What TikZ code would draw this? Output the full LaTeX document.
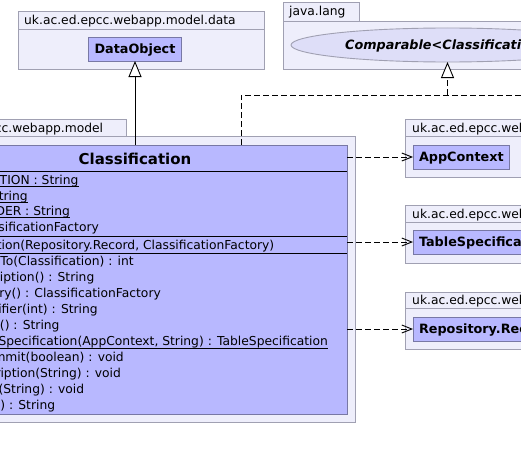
\documentclass[tikz,border=0pt]{standalone}
\usepackage{fontspec}
\setmainfont{DejaVu Sans}
\usetikzlibrary{arrows.meta,shapes.geometric}
\definecolor{pkgfill}{RGB}{238,238,251}
\definecolor{pkgline}{RGB}{160,160,178}
\definecolor{clsfill}{RGB}{184,184,255}
\definecolor{clsline}{RGB}{120,120,165}
\definecolor{ifill}{RGB}{222,222,248}
\begin{document}
\begin{tikzpicture}[x=1pt,y=-1pt,
  pkg/.style={draw=pkgline, fill=pkgfill, line width=0.9pt},
  clsshape/.style={draw=clsline, fill=clsfill, line width=0.9pt, outer sep=0pt},
  lbl/.style={anchor=base west, inner sep=0pt, font=\fontsize{12.3}{14}\selectfont},
  member/.style={anchor=base west, inner sep=0pt, font=\fontsize{12.3}{14}\selectfont},
  uline/.style={draw=black, line width=0.8pt},
  clsname/.style={clsshape, font=\fontsize{12.8}{15}\selectfont\bfseries, text height=9.4pt, text depth=0pt, minimum height=24pt, inner xsep=6pt, inner ysep=0pt},
  divider/.style={draw=black, line width=0.9pt},
  dep/.style={draw=black, line width=0.9pt, dash pattern=on 6pt off 3pt, -{Straight Barb[length=10pt,width=8pt]}},
  inh/.style={draw=black, line width=0.9pt, -{Triangle[open,fill=white,length=16pt,width=13pt]}},
  realline/.style={draw=black, line width=0.9pt, dash pattern=on 6pt off 3pt}
]
\useasboundingbox (0,0) rectangle (521,460);
\clip (0,0) rectangle (521,460);
\fill[white] (0,0) rectangle (521,460);

% packages
\draw[pkg] (18,29) rectangle (264,69);
\draw[pkg] (18,11) rectangle (264,29);
\node[lbl] (pk1) at (24,24.5) {uk.ac.ed.epcc.webapp.model.data};

\draw[pkg] (283,21) rectangle (620,69);
\draw[pkg] (283,2) rectangle (359,21);
\node[lbl] (pk2) at (289,16) {java.lang};

\draw[pkg] (-83,136) rectangle (355,422);
\draw[pkg] (-83,119) rectangle (126,136);
\node[lbl] (pk3) at (-77,132) {uk.ac.ed.epcc.webapp.model};

\draw[pkg] (405,136) rectangle (640,177);
\draw[pkg] (405,119) rectangle (640,136);
\node[lbl] (pk4) at (412,132) {uk.ac.ed.epcc.webapp};

\draw[pkg] (405,222) rectangle (640,263);
\draw[pkg] (405,205) rectangle (640,222);
\node[lbl] (pk5) at (412,218) {uk.ac.ed.epcc.webapp.jdbc.table};

\draw[pkg] (405,308) rectangle (640,349);
\draw[pkg] (405,292) rectangle (640,308);
\node[lbl] (pk6) at (412,304.5) {uk.ac.ed.epcc.webapp.model.data};

% classes
\node[clsname] (dobj) at (135,49) {DataObject};
\node[ellipse, draw=pkgline, fill=ifill, line width=0.9pt, minimum width=313pt, minimum height=34pt,
      inner sep=0pt, outer sep=0pt, text height=9.4pt, text depth=0pt,
      font=\fontsize{12.8}{15}\selectfont\bfseries\itshape] (cmp) at (447.5,45) {Comparable<Classification>};
\node[clsname, anchor=west] (app) at (413,157) {AppContext};
\node[clsname, anchor=west] (tsp) at (413,242) {TableSpecification};
\node[clsname, anchor=west] (rec) at (413,329) {Repository.Record};

\node[clsshape, minimum width=424pt, minimum height=269pt, inner sep=0pt, anchor=north west] (cls) at (-77,145) {};
\node[anchor=base, inner sep=0pt, font=\fontsize{15}{18}\selectfont\bfseries] (title) at (135,164) {Classification};
\draw[divider] (-77,171) -- (347,171);
\draw[divider] (-77,236.5) -- (347,236.5);
\draw[divider] (-77,253.5) -- (347,253.5);

\node[member] (a1) at (-64,184.5) {+DESCRIPTION : String};
\node[member] (a2) at (-67.5,200) {+NAME : String};
\node[member] (a3) at (-72,215.5) {+SORT\_ORDER : String};
\node[member] (a4) at (-64,231) {-fac : ClassificationFactory};
\draw[uline] ([yshift=-2pt]a1.base west) -- ([yshift=-2pt]a1.base east);
\draw[uline] ([yshift=-2pt]a2.base west) -- ([yshift=-2pt]a2.base east);
\draw[uline] ([yshift=-2pt]a3.base west) -- ([yshift=-2pt]a3.base east);

\node[member] (k1) at (-71.5,249.5) {+Classification(Repository.Record, ClassificationFactory)};

\node[member] (m1) at (-64,265.5) {+compareTo(Classification) : int};
\node[member] (m2) at (-66,281.5) {+getDescription() : String};
\node[member] (m3) at (-64,297.5) {+getFactory() : ClassificationFactory};
\node[member] (m4) at (-64,313.5) {+getIdentifier(int) : String};
\node[member] (m5) at (-67,329.5) {+getName() : String};
\node[member] (m6) at (-64,345.5) {+getTableSpecification(AppContext, String) : TableSpecification};
\node[member] (m7) at (-64,361.5) {\#post\_commit(boolean) : void};
\node[member] (m8) at (-64,377.5) {+setDescription(String) : void};
\node[member] (m9) at (-67,393.5) {+setName(String) : void};
\node[member] (m10) at (-64,409.5) {+toString() : String};
\draw[uline] ([yshift=-2.5pt]m6.base west) -- ([yshift=-2.5pt]m6.base east);

% connectors
\draw[inh] (cls.north) -- (dobj.south);
\coordinate (rs) at (241,145);
\coordinate (rb) at (241,95);
\coordinate (re) at (540,95);
\coordinate (rm) at (447.5,95);
\draw[realline] (rs) -- (rb) -- (re);
\draw[realline, -{Triangle[open,fill=white,length=16pt,width=13pt]}] (rm) -- (cmp.south);
\draw[dep] (cls.east |- app.west) -- (app.west);
\draw[dep] (cls.east |- tsp.west) -- (tsp.west);
\draw[dep] (cls.east |- rec.west) -- (rec.west);
\end{tikzpicture}
\end{document}
